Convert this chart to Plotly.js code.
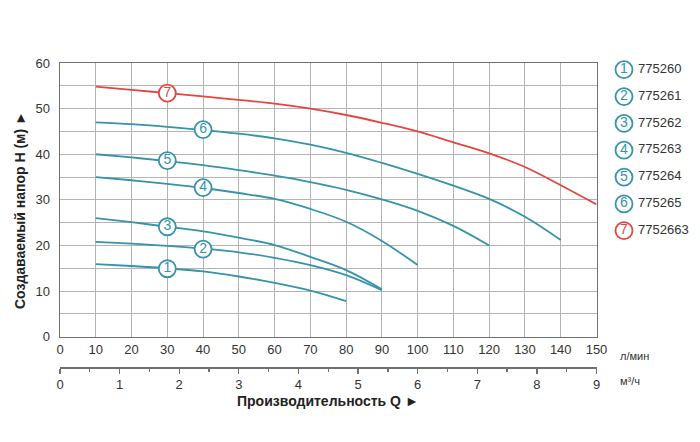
<!DOCTYPE html>
<html>
<head>
<meta charset="utf-8">
<script src="https://cdn.plot.ly/plotly-3.0.1.min.js"></script>
<style>html,body{margin:0;padding:0;background:#fff;}#chart{width:700px;height:442px;}</style>
</head>
<body>
<div id="chart"></div>
<script>
// ---- data ----
const seriesNames = ["775260", "775261", "775262", "775263", "775264", "775265", "7752663"];
const seriesNums = ["1", "2", "3", "4", "5", "6", "7"];

const q1 = [10, 20, 30, 40, 50, 60, 70, 80];
const h1 = [15.9, 15.5, 15.0, 14.3, 13.2, 11.8, 10.1, 7.8];

const q2 = [10, 20, 30, 40, 50, 60, 70, 80, 90];
const h2 = [20.8, 20.4, 19.9, 19.3, 18.5, 17.3, 15.7, 13.5, 10.2];

const q3 = [10, 20, 30, 40, 50, 60, 70, 80, 90];
const h3 = [26.0, 25.1, 24.1, 23.1, 21.7, 20.1, 17.5, 14.6, 10.4];

const q4 = [10, 20, 30, 40, 50, 60, 70, 80, 90, 100];
const h4 = [35.0, 34.3, 33.5, 32.6, 31.5, 30.2, 28.0, 25.2, 21.0, 15.7];

const q5 = [10, 20, 30, 40, 50, 60, 70, 80, 90, 100, 110, 120];
const h5 = [40.0, 39.3, 38.5, 37.6, 36.5, 35.3, 33.9, 32.2, 30.1, 27.6, 24.3, 20.0];

const q6 = [10, 20, 30, 40, 50, 60, 70, 80, 90, 100, 110, 120, 130, 140];
const h6 = [47.0, 46.6, 46.0, 45.3, 44.5, 43.5, 42.1, 40.3, 38.1, 35.7, 33.1, 30.2, 26.3, 21.2];

const q7 = [10, 20, 30, 40, 50, 60, 70, 80, 90, 100, 110, 120, 130, 140, 150];
const h7 = [54.8, 54.1, 53.4, 52.7, 51.9, 51.1, 50.0, 48.6, 46.9, 45.0, 42.6, 40.2, 37.2, 33.2, 29.0];

// curve badge positions (Q, H)
const badgeQ = [30, 40, 30, 40, 30, 40, 30];
const badgeH = [14.9, 19.2, 24.1, 32.7, 38.6, 45.4, 53.4];

// axis ticks
const xTickVals = [0, 10, 20, 30, 40, 50, 60, 70, 80, 90, 100, 110, 120, 130, 140, 150];
const yTickVals = [0, 5, 10, 15, 20, 25, 30, 35, 40, 45, 50, 55, 60];
const yTickText = ["0", "", "10", "", "20", "", "30", "", "40", "", "50", "", "60"];
const m3hTickVals = [0, 1, 2, 3, 4, 5, 6, 7, 8, 9];
const legendRows = [1, 2, 3, 4, 5, 6, 7];

// ---- styles ----
const TEAL = "#3593aa";
const RED = "#e6453f";
const colors = [TEAL, TEAL, TEAL, TEAL, TEAL, TEAL, RED];
const FONT = "Liberation Sans, Arial, sans-serif";

const qs = [q1, q2, q3, q4, q5, q6, q7];
const hs = [h1, h2, h3, h4, h5, h6, h7];

const traces = [];
for (let i = 0; i < 7; i++) {
  traces.push({
    x: qs[i], y: hs[i], type: "scatter", mode: "lines",
    line: {color: colors[i], width: 1.8, shape: "spline", smoothing: 1},
    hoverinfo: "skip", showlegend: false, xaxis: "x", yaxis: "y"
  });
}
// badges on curves
traces.push({
  x: badgeQ, y: badgeH, type: "scatter", mode: "markers+text",
  text: seriesNums, textposition: "middle center",
  textfont: {family: FONT, size: 14, color: colors},
  marker: {size: 17, color: "#ffffff", line: {color: colors, width: 1.8}},
  hoverinfo: "skip", showlegend: false, xaxis: "x", yaxis: "y", cliponaxis: false
});
// invisible trace to anchor the m3/h axis
traces.push({
  x: [m3hTickVals[0], m3hTickVals[m3hTickVals.length - 1]], y: [0, 0],
  type: "scatter", mode: "markers", marker: {opacity: 0},
  hoverinfo: "skip", showlegend: false, xaxis: "x2", yaxis: "y"
});
// legend circles
traces.push({
  x: legendRows.map(() => 14), y: legendRows, type: "scatter", mode: "markers+text",
  text: seriesNums, textposition: "middle center",
  textfont: {family: FONT, size: 14, color: colors},
  marker: {size: 17, color: "#ffffff", line: {color: colors, width: 1.8}},
  hoverinfo: "skip", showlegend: false, xaxis: "x3", yaxis: "y3", cliponaxis: false
});
// legend labels
traces.push({
  x: legendRows.map(() => 28), y: legendRows, type: "scatter", mode: "text",
  text: seriesNames, textposition: "middle right",
  textfont: {family: FONT, size: 13, color: "#333333"},
  hoverinfo: "skip", showlegend: false, xaxis: "x3", yaxis: "y3", cliponaxis: false
});

const L = 60, R = 10, T = 63, B = 70;
const pw = 700 - L - R;   // 630
const ph = 442 - T - B;   // 309
const plotRight = 596.5, plotBottom = 336.7;
const xDomEnd = (plotRight - L) / pw;
const yDomStart = (442 - B - plotBottom) / ph;

const layout = {
  width: 700, height: 442,
  margin: {l: L, r: R, t: T, b: B, pad: 0},
  paper_bgcolor: "#ffffff", plot_bgcolor: "#ffffff",
  font: {family: FONT, size: 13, color: "#333333"},
  xaxis: {
    domain: [0, xDomEnd], range: [0, 150], tickvals: xTickVals,
    showgrid: true, gridcolor: "#b4b4b4", gridwidth: 1,
    showline: true, linecolor: "#707070", linewidth: 1.5, mirror: true,
    ticks: "", zeroline: false, tickfont: {family: FONT, size: 13, color: "#333"},
    anchor: "y", fixedrange: true
  },
  yaxis: {
    domain: [yDomStart, 1], range: [0, 60], tickvals: yTickVals, ticktext: yTickText,
    showgrid: true, gridcolor: "#b4b4b4", gridwidth: 1,
    showline: true, linecolor: "#707070", linewidth: 1.5, mirror: true,
    ticks: "", zeroline: false, tickfont: {family: FONT, size: 13, color: "#333"},
    ticklabelstandoff: 6, anchor: "x", fixedrange: true
  },
  xaxis2: {
    domain: [0, xDomEnd], range: [0, 9], tickvals: m3hTickVals,
    overlaying: "x", anchor: "free", position: (442 - B - 367) / ph, side: "bottom",
    showgrid: false, zeroline: false, showline: true, linecolor: "#707070", linewidth: 1.5,
    ticks: "outside", ticklen: 5, tickwidth: 1.3, tickcolor: "#707070",
    minor: {dtick: 0.5, ticks: "outside", ticklen: 3, tickwidth: 1.3, tickcolor: "#707070", showgrid: false},
    tickfont: {family: FONT, size: 13, color: "#333"}, fixedrange: true
  },
  xaxis3: {domain: [(610 - L) / pw, 1], range: [0, 80], visible: false, anchor: "y3", fixedrange: true},
  yaxis3: {domain: [yDomStart, 1], range: [10.95, 0.75], visible: false, anchor: "x3", fixedrange: true},
  annotations: [
    {text: "л/мин", xref: "x", x: 150, xanchor: "left", xshift: 21,
     yref: "paper", y: (442 - B - 356) / ph, yanchor: "middle", showarrow: false,
     font: {family: FONT, size: 11, color: "#333"}},
    {text: "м³/ч", xref: "x", x: 150, xanchor: "left", xshift: 21,
     yref: "paper", y: (442 - B - 381) / ph, yanchor: "middle", showarrow: false,
     font: {family: FONT, size: 11, color: "#333"}},
    {text: "<b>Производительность Q ►</b>", xref: "x", x: 75, xanchor: "center",
     yref: "paper", y: (442 - B - 401) / ph, yanchor: "middle", showarrow: false,
     font: {family: FONT, size: 14, color: "#222"}},
    {text: "<b>Создаваемый напор Н (м) ►</b>", textangle: -90,
     xref: "paper", x: (20 - L) / pw, xanchor: "center",
     yref: "paper", y: (442 - B - 210) / ph, yanchor: "middle", showarrow: false,
     font: {family: FONT, size: 14, color: "#222"}}
  ]
};

Plotly.newPlot("chart", traces, layout, {staticPlot: true, displayModeBar: false});
</script>
</body>
</html>
